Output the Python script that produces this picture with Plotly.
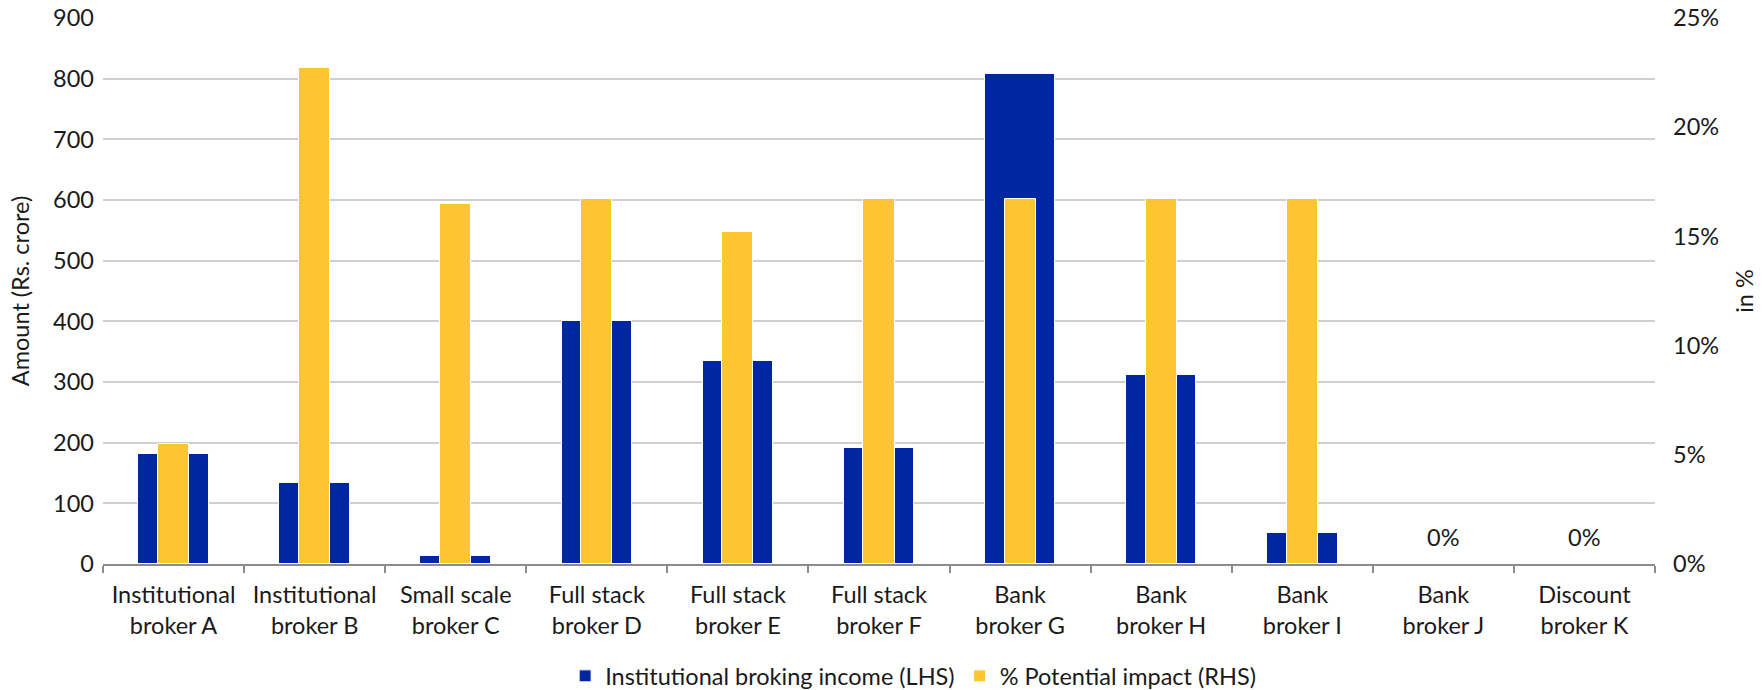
import plotly.graph_objects as go

# Broker categories (two-line axis labels)
categories = [
    "Institutional<br>broker A",
    "Institutional<br>broker B",
    "Small scale<br>broker C",
    "Full stack<br>broker D",
    "Full stack<br>broker E",
    "Full stack<br>broker F",
    "Bank<br>broker G",
    "Bank<br>broker H",
    "Bank<br>broker I",
    "Bank<br>broker J",
    "Discount<br>broker K",
]

# Institutional broking income, Rs. crore (left axis)
broking_income = [182, 134, 14, 401, 335, 192, 808, 312, 51, 0, 0]

# Potential impact, % (right axis)
potential_impact = [5.5, 22.7, 16.5, 16.7, 15.2, 16.7, 16.7, 16.7, 16.7, 0, 0]

left_ticks = list(range(0, 901, 100))
right_ticks = [0, 5, 10, 15, 20, 25]
right_tick_text = [f"{v}%" for v in right_ticks]

FONT = "Lato"
FS = 23.5
TEXT_COLOR = "#1a1a1a"
BLUE = "#0027A2"
YELLOW = "#FEC532"
GRID = "#cfcfcf"


def font(size=FS):
    return dict(family=FONT, size=size, color=TEXT_COLOR)


fig = go.Figure()

fig.add_trace(go.Bar(
    x=categories,
    y=broking_income,
    name="Institutional broking income (LHS)",
    marker=dict(color=BLUE, line=dict(color="white", width=1)),
    width=0.5,
    yaxis="y",
))

fig.add_trace(go.Bar(
    x=categories,
    y=potential_impact,
    name="% Potential impact (RHS)",
    marker=dict(color=YELLOW, line=dict(color="white", width=1)),
    width=0.22,
    yaxis="y2",
))

# Value labels for the zero-impact brokers
for cat, val in zip(categories, potential_impact):
    if val == 0:
        fig.add_annotation(
            x=cat, y=val, xref="x", yref="y2",
            text=f"{val:g}%", showarrow=False,
            yanchor="middle", yshift=27,
            font=font(),
        )

fig.update_layout(
    width=1762,
    height=690,
    margin=dict(l=103, r=107, t=18, b=126, autoexpand=False),
    paper_bgcolor="white",
    plot_bgcolor="white",
    barmode="overlay",
    bargap=0,
    font=font(),
    showlegend=True,
    legend=dict(
        orientation="h",
        x=0.522, xanchor="center",
        y=-0.165, yanchor="top",
        font=font(),
        itemclick=False,
        traceorder="normal",
    ),
    xaxis=dict(
        type="category",
        showgrid=False,
        showline=True,
        linecolor="#8c8c8c",
        linewidth=2,
        ticks="outside",
        tickson="boundaries",
        ticklen=7,
        tickwidth=2,
        tickcolor="#8c8c8c",
        ticklabelstandoff=9,
        tickfont=font(),
        fixedrange=True,
        automargin=False,
    ),
    yaxis=dict(
        range=[0, 900],
        tickvals=left_ticks,
        showgrid=True,
        gridcolor=GRID,
        gridwidth=1.5,
        zeroline=False,
        showline=False,
        ticks="",
        ticklabelstandoff=8,
        tickfont=font(),
        automargin=False,
        title=dict(text="Amount (Rs. crore)", standoff=16, font=font()),
    ),
    yaxis2=dict(
        range=[0, 25],
        tickvals=right_ticks,
        ticktext=right_tick_text,
        overlaying="y",
        side="right",
        showgrid=False,
        zeroline=False,
        showline=False,
        ticks="",
        ticklabelstandoff=17,
        tickfont=font(),
        automargin=False,
        title=dict(text="in %", standoff=18, font=font()),
    ),
)

fig.write_html("out.html")
